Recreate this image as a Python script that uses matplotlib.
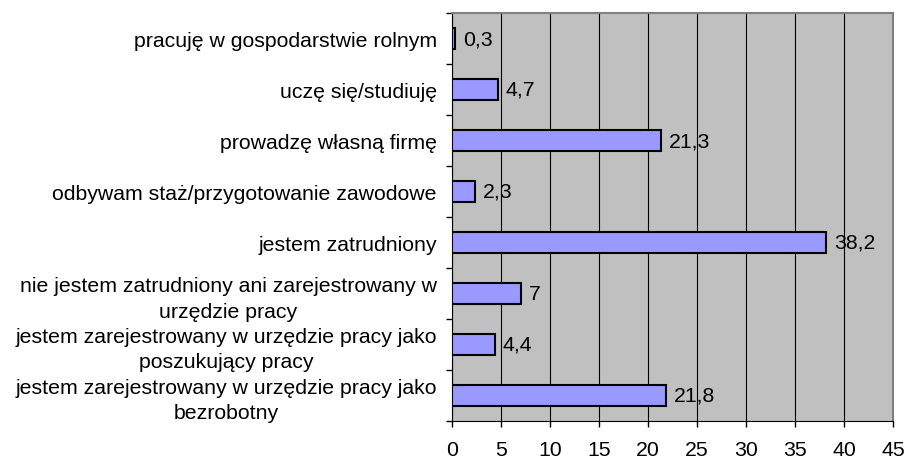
import matplotlib
matplotlib.use("Agg")
import matplotlib.pyplot as plt

plt.rcParams['font.family'] = ['Liberation Sans', 'DejaVu Sans']

categories = [
    "pracuję w gospodarstwie rolnym",
    "uczę się/studiuję",
    "prowadzę własną firmę",
    "odbywam staż/przygotowanie zawodowe",
    "jestem zatrudniony",
    "nie jestem zatrudniony ani zarejestrowany w\nurzędzie pracy",
    "jestem zarejestrowany w urzędzie pracy jako\nposzukujący pracy",
    "jestem zarejestrowany w urzędzie pracy jako\nbezrobotny",
]
values = [0.3, 4.7, 21.3, 2.3, 38.2, 7, 4.4, 21.8]
xticks = [0, 5, 10, 15, 20, 25, 30, 35, 40, 45]

fs = 15.3

fig = plt.figure(figsize=(9.06, 4.6), dpi=100)
ax = fig.add_axes([452 / 906, 1 - 422 / 460, 441 / 906, 408 / 460])
ax.set_facecolor('#C0C0C0')

pos = list(range(len(categories)))
ax.barh(pos, values, height=0.4, color='#9999FF', edgecolor='black', linewidth=1.5, zorder=3)
for p, v in zip(pos, values):
    ax.text(v + 0.8, p, f"{v:g}".replace('.', ','), va='center', ha='left', fontsize=fs, zorder=4)

ax.set_xlim(0, 45)
ax.set_ylim(len(categories) - 0.5, -0.5)
ax.set_xticks(xticks)
ax.tick_params(axis='x', length=4, width=1, labelsize=fs, pad=10)

ax.set_yticks(pos)
ax.set_yticklabels(categories, fontsize=fs, multialignment='center', linespacing=1.4)
ax.set_yticks([p + 0.5 for p in [-1] + pos], minor=True)
ax.tick_params(axis='y', which='major', length=0, pad=11)
ax.tick_params(axis='y', which='minor', length=4, width=1)

ax.grid(axis='x', color='black', linewidth=0.8, zorder=1)
for side in ['top', 'right']:
    ax.spines[side].set_color('#808080')
    ax.spines[side].set_linewidth(1.5)
ax.spines['left'].set_color('black')
ax.spines['bottom'].set_color('black')

plt.savefig('out.png', dpi=100)
